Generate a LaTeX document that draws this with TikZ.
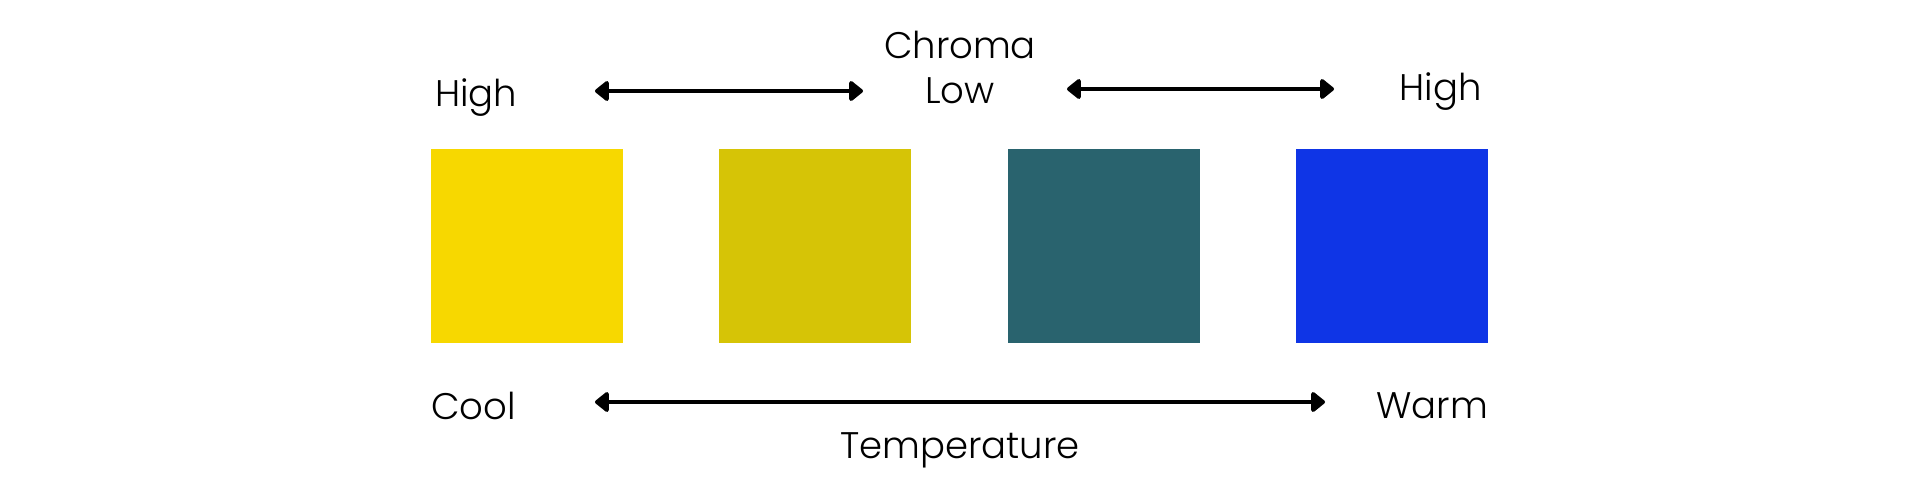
\documentclass[tikz,border=0pt]{standalone}
\usepackage{fontspec}
\setmainfont{Poppins Light}
\usetikzlibrary{arrows.meta}
\definecolor{cyellow}{HTML}{F7D800}
\definecolor{colive}{HTML}{D6C406}
\definecolor{cteal}{HTML}{29636E}
\definecolor{cblue}{HTML}{0F35E6}
\tikzset{
  swatch/.style={draw=none, minimum width=192pt, minimum height=194pt, inner sep=0pt, anchor=north west},
  lbl/.style={font=\fontsize{37}{40}\selectfont, inner sep=0pt, text=black},
  axis/.style={line width=4.5pt, {Triangle[round,length=15pt,width=23pt]}-{Triangle[round,length=15pt,width=23pt]}}
}
\begin{document}
\begin{tikzpicture}[x=1pt,y=-1pt]
\useasboundingbox (0,0) rectangle (1920,480);
\node[swatch, fill=cyellow] (s1) at (431,149) {};
\node[swatch, fill=colive] (s2) at (719,149) {};
\node[swatch, fill=cteal] (s3) at (1008,149) {};
\node[swatch, fill=cblue] (s4) at (1296,149) {};

\node[lbl, anchor=west] (hl) at (435,98) {High};
\node[lbl] (chroma) at (960,45) {Chroma};
\node[lbl] (low) at (960,91) {Low};
\node[lbl, anchor=east] (hr) at (1482,92) {High};
\node[lbl, anchor=west] (cool) at (431,406) {Cool};
\node[lbl, anchor=east] (warm) at (1488,406) {Warm};
\node[lbl] (temp) at (960,450) {Temperature};

\coordinate (a1s) at (595,91);
\coordinate (a1e) at (863,91);
\coordinate (a2s) at (1067,89);
\coordinate (a2e) at (1334,89);
\coordinate (a3s) at (595,402);
\coordinate (a3e) at (1325,402);
\draw[axis] (a1s) -- (a1e);
\draw[axis] (a2s) -- (a2e);
\draw[axis] (a3s) -- (a3e);
\end{tikzpicture}
\end{document}
